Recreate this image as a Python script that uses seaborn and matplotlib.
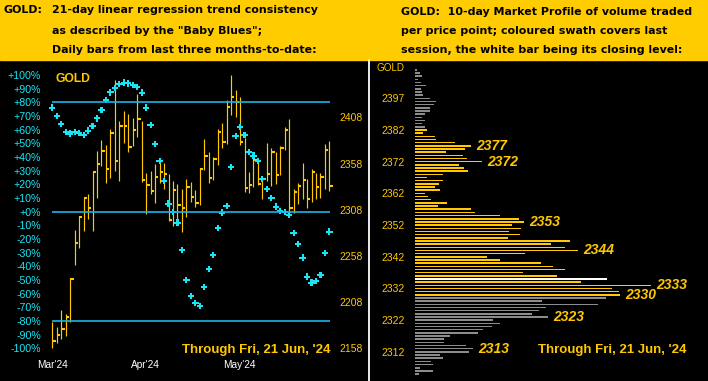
import numpy as np
import matplotlib
matplotlib.use("Agg")
import matplotlib.pyplot as plt
from matplotlib.patches import Rectangle
from matplotlib.lines import Line2D
import seaborn as sns

sns.set_theme(style="dark")
plt.rcParams['font.family'] = ['Liberation Sans', 'DejaVu Sans']

# --- left panel: daily bars (price) + Baby Blues (% trend consistency) ---
bar_high = [2186.1, 2181.4, 2199.4, 2194.7, 2233.7, 2286.0, 2301.2, 2322.1, 2324.6, 2349.9,
            2371.5, 2383.4, 2378.0, 2395.3, 2448.4, 2404.0, 2414.8, 2411.6, 2406.9, 2433.2,
            2404.0, 2347.4, 2349.9, 2357.5, 2363.6, 2358.2, 2346.6, 2339.1, 2335.8, 2330.4,
            2341.2, 2337.6, 2329.3, 2352.8, 2384.5, 2370.8, 2364.7, 2395.0, 2401.5, 2426.7,
            2453.8, 2437.6, 2429.6, 2385.2, 2348.4, 2363.6, 2362.9, 2342.6, 2379.8, 2374.4,
            2370.8, 2377.3, 2397.8, 2406.1, 2330.0, 2337.2, 2358.1, 2341.2, 2351.6, 2347.3,
            2347.3, 2378.7, 2382.3]
bar_low = [2157.9, 2164.1, 2167.7, 2171.6, 2186.8, 2248.1, 2266.9, 2284.9, 2297.9, 2284.9,
           2321.0, 2355.3, 2337.3, 2342.7, 2350.2, 2339.4, 2379.8, 2370.8, 2376.9, 2387.0,
           2338.3, 2303.3, 2325.0, 2315.6, 2337.3, 2330.4, 2296.1, 2290.3, 2292.5, 2284.2,
           2300.4, 2316.7, 2311.3, 2313.1, 2351.0, 2337.3, 2340.1, 2356.4, 2375.1, 2379.1,
           2410.5, 2408.7, 2378.0, 2327.5, 2326.4, 2332.9, 2334.7, 2319.5, 2339.0, 2334.0,
           2335.4, 2345.5, 2372.6, 2302.9, 2304.0, 2313.8, 2319.2, 2310.2, 2316.6, 2319.2,
           2320.3, 2330.4, 2328.6]
bar_close = [2166.2, 2172.4, 2179.2, 2192.2, 2233.0, 2272.3, 2300.4, 2321.0, 2310.2, 2349.2,
             2357.5, 2371.5, 2352.4, 2390.6, 2360.3, 2398.6, 2398.6, 2376.2, 2394.3, 2406.2,
             2340.1, 2334.7, 2328.6, 2343.7, 2349.2, 2346.6, 2296.8, 2329.3, 2313.1, 2310.2,
             2332.9, 2322.1, 2315.6, 2352.4, 2366.5, 2341.9, 2362.5, 2392.5, 2380.9, 2419.5,
             2430.3, 2424.9, 2381.6, 2331.1, 2334.7, 2361.8, 2335.8, 2340.8, 2347.0, 2370.8,
             2345.5, 2375.1, 2394.2, 2310.2, 2327.5, 2334.0, 2340.1, 2319.2, 2348.4, 2332.9,
             2343.7, 2372.6, 2333.6]
baby_blues = [76.1, 70.0, 64.2, 58.5, 57.1, 58.5, 57.8, 56.3, 59.3, 62.9,
              68.3, 74.6, 81.9, 87.3, 90.7, 93.2, 94.4, 93.9, 92.7, 91.2,
              87.1, 76.1, 63.6, 49.7, 37.1, 22.5, 5.9, 0.0, -8.0, -28.0,
              -50.0, -61.5, -66.6, -68.8, -54.9, -41.7, -31.5, -11.9, -0.7, 4.4,
              32.9, 55.6, 62.0, 56.3, 43.9, 41.0, 36.9, 24.1, 16.8, 10.2,
              3.7, 0.7, 0.0, -2.4, -15.4, -23.4, -33.6, -47.5, -51.9, -50.5,
              -46.1, -30.0, -14.6]
month_labels = ["Mar'24", "Apr'24", "May'24"]
month_pos = [0, 20.8, 41.9]
pct_levels = [80, 0, -80]
pct_ticks = list(range(-100, 101, 10))
price_ticks = [2158, 2208, 2258, 2308, 2358, 2408]

# --- right panel: 10-day market profile ---
profile_prices = np.arange(2401, 2304, -1)
profile_volume = [2.3, 5, 7, 3.3, 5.7, 11, 6.3, 7, 8.3, 15, 21, 19, 15, 15, 10, 7, 9.7, 7, 10.3,
                  12, 8, 20, 21, 40, 56, 50.3, 31, 47.7, 52.3, 67, 44, 49.3, 53, 28, 12.3, 28, 24,
                  20, 25, 10.3, 13, 16, 32, 23.3, 56, 60, 85, 104, 109,
                  97, 106, 94, 105, 92.7, 155, 136, 150, 163, 110, 71.7, 84.7, 126, 138, 150, 108,
                  142, 192, 166, 236, 197, 204, 205,
                  191, 127, 183, 131, 124, 117, 133, 78, 85, 77, 68, 63, 35, 29, 29, 50.7, 58,
                  53.7, 25, 28, 16, 18, 5, 18, 4.3]
swath_high, swath_low = 2382, 2330
close_level = 2335
peak_labels = [2377, 2372, 2353, 2344, 2333, 2330, 2323, 2313]
profile_ticks = [2392, 2382, 2372, 2362, 2352, 2342, 2332, 2322, 2312]
profile_tick_labels = ['2397', '2382', '2372', '2362', '2352', '2342', '2332', '2322', '2312']

W, H = 708, 381
YELLOW = '#ffcc00'
GOLD = '#ffc800'
CYAN = '#19e6f5'
LINEBLUE = '#1ab4e6'


def box(x0, y0, x1, y1):
    return [x0 / W, 1 - y1 / H, (x1 - x0) / W, (y1 - y0) / H]


def fx(x):
    return x / W


def fy(y):
    return 1 - y / H


fig = plt.figure(figsize=(W / 100, H / 100), dpi=100, facecolor='black')

# header band and divider
fig.patches.append(Rectangle((0, fy(60)), 1, 60 / H, transform=fig.transFigure,
                             color=YELLOW, zorder=0))
fig.lines.append(Line2D([fx(369.3), fx(369.3)], [0, fy(60)], transform=fig.transFigure,
                        color='white', lw=1.3))

hdr = dict(family='DejaVu Sans', weight='bold', size=7.9, color='black', va='baseline')
fig.text(fx(4), fy(13.3), "GOLD:", **hdr)
fig.text(fx(52), fy(13.3), "21-day linear regression trend consistency", **hdr)
fig.text(fx(52), fy(34.3), 'as described by the "Baby Blues";', **hdr)
fig.text(fx(52), fy(53.3), "Daily bars from last three months-to-date:", **hdr)
fig.text(fx(400.7), fy(15), "GOLD:  10-day Market Profile of volume traded", **hdr)
fig.text(fx(400.7), fy(33.7), "per price point; coloured swath covers last", **hdr)
fig.text(fx(400.7), fy(52.7), "session, the white bar being its closing level:", **hdr)

# left panel
ax1 = fig.add_axes(box(46, 62, 336, 356))
ax1.set_facecolor('black')
ax2 = ax1.twinx()
x = np.arange(len(bar_high))
ax1.vlines(x, bar_low, bar_high, color=GOLD, lw=0.85)
ax1.hlines(bar_close, x, x + 0.75, color=GOLD, lw=1.5)

ax2.hlines(pct_levels, -0.1, 62.2, color=LINEBLUE, lw=1.2)
sns.scatterplot(x=x, y=baby_blues, ax=ax2, marker='P', s=21, color=CYAN,
                edgecolor='none', linewidth=0, legend=False)

ax1.set_xlim(-1.41, 63.47)
ax1.set_ylim(2149.67, 2467.85)
ax2.set_xlim(-1.41, 63.47)
ax2.set_ylim(-105.56, 109.51)

ax1.yaxis.tick_right()
ax1.set_yticks(price_ticks)
ax1.set_yticklabels([str(p) for p in price_ticks])
ax1.tick_params(axis='y', colors=GOLD, labelsize=7.5, length=0, pad=2.2,
                labelleft=False, labelright=True)
ax1.set_xticks(month_pos)
ax1.set_xticklabels(month_labels)
ax1.tick_params(axis='x', colors='white', labelsize=7.3, length=0, pad=2.7)

ax2.yaxis.tick_left()
ax2.set_yticks(pct_ticks)
ax2.set_yticklabels([f"{v:+d}%" for v in pct_ticks])
ax2.tick_params(axis='y', colors=CYAN, labelsize=7.7, length=0, pad=3.6,
                labelleft=True, labelright=False)
ax2.set_xlabel('')
ax2.set_ylabel('')
for a in (ax1, ax2):
    a.grid(False)
    for s in a.spines.values():
        s.set_visible(False)

fig.text(fx(55), fy(81.7), "GOLD", color=GOLD, weight='bold', size=8.7, va='baseline')
fig.text(fx(330), fy(353.3), "Through Fri, 21 Jun, '24", color=GOLD, weight='bold',
         size=9.5, ha='right', va='baseline')

# right panel: market profile
ax3 = fig.add_axes(box(415, 62, 708, 381))
ax3.set_facecolor('black')
colors = []
for p in profile_prices:
    if p == close_level:
        colors.append('white')
    elif swath_low <= p <= swath_high:
        colors.append(GOLD)
    else:
        colors.append('#8c8c8c')
ax3.barh(profile_prices, profile_volume, height=0.48, color=colors, linewidth=0)
ax3.set_xlim(0, 293)
ax3.set_ylim(2302.82, 2403.45)
ax3.set_xticks([])
ax3.set_yticks(profile_ticks)
ax3.set_yticklabels(profile_tick_labels)
ax3.tick_params(axis='y', colors=GOLD, labelsize=7.5, length=0, pad=7.2)
ax3.grid(False)
for s in ax3.spines.values():
    s.set_visible(False)

vol_at = dict(zip(profile_prices.tolist(), profile_volume))
for p in peak_labels:
    ax3.text(vol_at[p] + 5, p, str(p), color=GOLD, weight='bold', style='italic',
             size=10, ha='left', va='center')

fig.text(fx(376.7), fy(71), "GOLD", color=GOLD, size=7.1, va='baseline')
fig.text(fx(686), fy(353.3), "Through Fri, 21 Jun, '24", color=GOLD, weight='bold',
         size=9.5, ha='right', va='baseline')

fig.savefig("out.png", dpi=100, facecolor='black')
